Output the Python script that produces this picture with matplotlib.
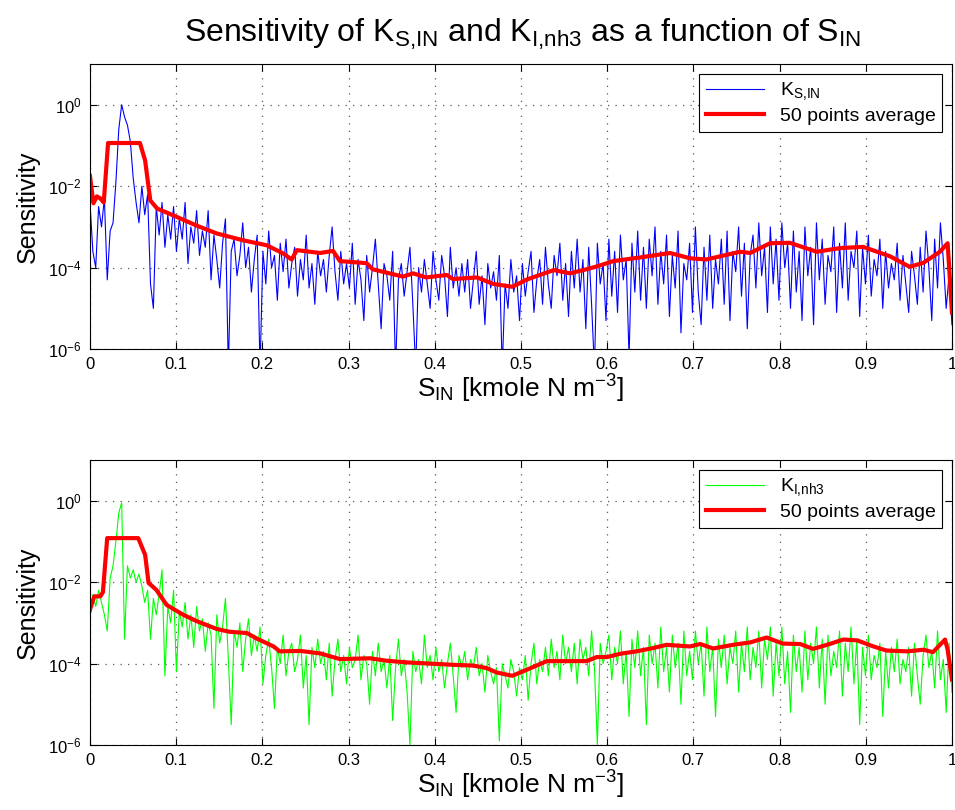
import numpy as np
import matplotlib
matplotlib.use('Agg')
import matplotlib.pyplot as plt

plt.rcParams['font.family'] = ['Liberation Sans', 'DejaVu Sans']
plt.rcParams['mathtext.fontset'] = 'custom'
plt.rcParams['mathtext.rm'] = 'Liberation Sans'
plt.rcParams['mathtext.it'] = 'Liberation Sans'
plt.rcParams['mathtext.bf'] = 'Liberation Sans:bold'

# log10 of the sensitivity (evenly spaced over S_IN = 0..1)
ks_log = [
    -2.4, -3.6, -4.0, -2.5, -3.0, -2.3, -4.3, -3.1, -2.9, -1.9,
    -0.6, 0.0, -0.3, -0.5, -0.9, -1.8, -2.4, -2.9, -2.0, -2.7,
    -2.2, -4.4, -5.0, -2.5, -3.2, -2.4, -3.5, -2.7, -3.3, -2.5,
    -3.6, -2.8, -3.3, -2.4, -3.9, -3.0, -3.4, -2.6, -3.7, -3.1,
    -3.5, -2.6, -4.3, -3.2, -3.8, -4.5, -3.4, -2.8, -6.5, -3.6,
    -3.3, -4.2, -3.7, -2.9, -4.0, -3.5, -4.6, -3.8, -3.2, -6.5,
    -3.6, -4.4, -3.1, -4.0, -3.7, -4.8, -3.4, -4.1, -3.3, -4.5,
    -3.9, -3.5, -4.7, -3.8, -4.3, -3.2, -4.5, -3.9, -4.9, -3.6,
    -4.2, -3.8, -4.6, -3.7, -3.0, -4.1, -4.8, -3.6, -4.4, -3.9,
    -4.5, -3.4, -4.9, -3.8, -4.3, -5.3, -3.7, -4.6, -4.0, -3.3,
    -4.4, -5.5, -3.9, -4.2, -4.8, -3.6, -6.5, -4.3, -3.9, -4.7,
    -4.1, -3.5, -4.9, -6.5, -4.0, -4.6, -3.8, -4.4, -5.0, -3.6,
    -4.3, -4.8, -3.7, -4.2, -5.2, -3.5, -4.5, -4.0, -4.7, -3.9,
    -4.6, -3.8, -5.0, -4.3, -3.6, -4.9, -4.2, -5.4, -3.9, -4.5,
    -4.1, -4.8, -3.7, -6.5, -4.4, -5.0, -3.8, -4.6, -4.2, -5.3,
    -3.9, -4.7, -4.1, -3.6, -5.1, -4.3, -3.8, -4.9, -3.5, -4.4,
    -5.0, -3.7, -4.2, -3.4, -4.8, -3.9, -5.2, -3.6, -4.5, -3.3,
    -4.6, -3.8, -5.5, -3.5, -4.9, -6.5, -3.4, -4.4, -3.9, -5.3,
    -3.3, -4.7, -3.6, -5.1, -3.2, -4.3, -3.8, -6.2, -3.4, -4.6,
    -3.1, -4.8, -3.5, -5.0, -3.3, -4.2, -3.0, -4.9, -3.6, -4.4,
    -3.2, -5.2, -3.7, -4.5, -3.1, -5.6, -3.9, -4.3, -3.4, -5.1,
    -3.0, -4.6, -5.4, -3.5, -4.8, -3.2, -5.0, -3.8, -4.4, -3.3,
    -4.9, -3.1, -5.3, -3.6, -4.1, -3.0, -4.7, -3.4, -5.5, -3.7,
    -3.2, -4.5, -2.9, -4.2, -3.5, -5.1, -3.0, -4.4, -3.3, -4.8,
    -2.9, -4.0, -3.4, -5.0, -3.1, -4.6, -3.6, -5.3, -3.0, -4.2,
    -3.5, -5.4, -2.9, -4.3, -3.3, -4.9, -3.7, -4.1, -3.0, -5.1,
    -3.4, -4.5, -2.9, -4.8, -3.6, -4.0, -3.1, -5.2, -3.5, -4.4,
    -3.2, -4.7, -3.8, -4.2, -3.3, -5.0, -3.6, -4.5, -3.9, -4.3,
    -3.4, -4.8, -3.7, -4.4, -5.1, -3.6, -4.2, -4.9, -3.5, -4.6,
    -3.1, -4.0, -5.3, -3.3, -4.5, -2.9, -3.8, -5.0, -4.2, -5.4,
]

ki_log = [
    -2.9, -2.3, -2.6, -2.2, -2.5, -2.8, -3.2, -1.9, -1.6, -1.0,
    -0.3, -0.05, -3.4, -1.6, -1.9, -1.7, -2.0, -1.8, -2.1, -2.5,
    -2.2, -3.4, -2.4, -2.8, -2.3, -1.7, -4.3, -2.6, -3.0, -2.2,
    -4.2, -2.7, -3.1, -2.5, -3.4, -2.8, -3.6, -2.6, -3.2, -2.9,
    -3.7, -3.0, -3.3, -5.1, -2.8, -3.5, -3.1, -2.4, -3.9, -5.5,
    -3.2, -3.6, -3.0, -4.2, -3.4, -2.9, -3.8, -3.3, -3.7, -3.1,
    -4.5, -3.8, -3.4, -4.1, -5.1, -3.6, -4.0, -3.3, -4.3, -3.7,
    -3.5, -4.2, -3.9, -3.3, -4.6, -3.8, -5.5, -3.6, -4.1, -3.4,
    -4.0, -3.7, -4.4, -3.5, -4.8, -3.9, -3.4, -4.2, -3.8, -4.5,
    -3.6, -4.1, -3.9, -3.3, -4.4, -3.8, -4.0, -5.0, -3.7, -4.3,
    -3.5, -4.2, -3.9, -4.6, -3.8, -5.4, -4.1, -3.4, -4.3, -3.9,
    -4.7, -6.0, -3.7, -4.2, -3.9, -4.5, -3.3, -4.1, -3.8, -4.4,
    -3.6, -4.2, -3.9, -4.6, -4.0, -3.5, -4.3, -5.2, -3.8, -4.1,
    -3.7, -4.4, -3.9, -4.1, -3.6, -4.3, -4.0, -4.7, -3.8, -4.2,
    -4.5, -4.1, -5.9, -4.0, -4.3, -4.6, -3.9, -4.2, -4.8, -4.1,
    -4.4, -3.8, -4.9, -4.0, -3.5, -4.5, -3.9, -4.2, -3.6, -4.3,
    -3.4, -4.1, -3.7, -4.4, -3.3, -4.0, -3.6, -4.2, -3.5, -4.5,
    -3.4, -3.9, -3.6, -4.3, -3.2, -4.1, -6.0, -3.5, -4.0, -3.7,
    -3.3, -4.4, -3.6, -4.0, -3.2, -4.5, -3.7, -5.3, -3.4, -4.1,
    -3.2, -4.3, -3.6, -5.5, -3.3, -4.0, -3.5, -4.6, -3.1, -4.2,
    -3.6, -4.7, -3.3, -4.1, -3.5, -5.0, -3.2, -4.3, -3.7, -4.4,
    -3.2, -4.0, -3.5, -4.8, -3.1, -4.2, -3.6, -5.3, -3.4, -4.1,
    -3.3, -4.5, -3.6, -4.0, -3.2, -4.7, -3.5, -4.2, -3.1, -4.4,
    -3.6, -4.1, -3.2, -4.6, -3.4, -3.9, -3.1, -4.8, -3.5, -4.3,
    -3.1, -4.5, -3.7, -5.2, -3.3, -4.2, -3.6, -4.7, -3.2, -4.4,
    -3.5, -4.0, -3.1, -4.6, -3.4, -5.0, -3.3, -4.3, -3.7, -4.1,
    -3.2, -4.8, -3.5, -4.2, -3.1, -4.5, -3.4, -5.5, -3.6, -4.3,
    -3.3, -4.4, -3.8, -4.1, -3.5, -5.3, -3.7, -4.6, -3.6, -4.2,
    -3.4, -4.5, -3.9, -4.2, -3.6, -4.8, -3.5, -4.3, -5.0, -3.8,
    -3.3, -4.1, -3.7, -4.6, -3.2, -4.4, -3.9, -5.2, -3.5, -4.7,
]

# 50 points moving average (log10)
avg_ks_x = [0, 0.004, 0.008, 0.012, 0.016, 0.021, 0.058, 0.064, 0.070, 0.078,
            0.097, 0.124, 0.147, 0.178, 0.205, 0.224, 0.234, 0.24, 0.267, 0.282,
            0.29, 0.321, 0.328, 0.363, 0.375, 0.39, 0.414, 0.421, 0.449, 0.468,
            0.49, 0.507, 0.538, 0.557, 0.576, 0.588, 0.607, 0.638, 0.673, 0.696,
            0.715, 0.754, 0.766, 0.789, 0.812, 0.843, 0.87, 0.897, 0.928, 0.951,
            0.967, 0.986, 0.995, 1.0]
avg_ks_log = [-1.75, -2.42, -2.25, -2.3, -2.4, -0.94, -0.94, -1.37, -2.35, -2.55,
              -2.72, -2.97, -3.16, -3.33, -3.45, -3.65, -3.8, -3.57, -3.64, -3.59,
              -3.84, -3.89, -4.04, -4.22, -4.14, -4.24, -4.18, -4.28, -4.24, -4.4,
              -4.47, -4.29, -4.06, -4.14, -4.04, -3.97, -3.84, -3.75, -3.64, -3.77,
              -3.8, -3.61, -3.64, -3.4, -3.39, -3.61, -3.52, -3.49, -3.72, -3.98,
              -3.88, -3.61, -3.4, -5.1]

avg_ki_x = [0, 0.005, 0.012, 0.015, 0.02, 0.056, 0.064, 0.068, 0.077, 0.089,
            0.1, 0.108, 0.124, 0.147, 0.162, 0.182, 0.193, 0.213, 0.22, 0.244,
            0.267, 0.29, 0.325, 0.344, 0.367, 0.394, 0.421, 0.445, 0.46, 0.472,
            0.49, 0.507, 0.53, 0.576, 0.588, 0.6, 0.615, 0.634, 0.653, 0.669,
            0.696, 0.708, 0.723, 0.746, 0.766, 0.785, 0.804, 0.824, 0.839, 0.855,
            0.874, 0.89, 0.909, 0.924, 0.948, 0.967, 0.978, 0.992, 0.995, 1.0]
avg_ki_log = [-2.68, -2.35, -2.35, -2.25, -0.92, -0.92, -1.33, -2.02, -2.19, -2.56,
              -2.7, -2.8, -2.96, -3.15, -3.22, -3.25, -3.38, -3.58, -3.7, -3.69,
              -3.75, -3.89, -3.87, -3.93, -3.97, -4.0, -4.03, -4.05, -4.11, -4.22,
              -4.3, -4.15, -3.94, -3.94, -3.84, -3.84, -3.76, -3.7, -3.62, -3.54,
              -3.58, -3.52, -3.63, -3.54, -3.48, -3.36, -3.51, -3.52, -3.64, -3.54,
              -3.41, -3.43, -3.58, -3.68, -3.7, -3.66, -3.72, -3.41, -3.66, -4.39]

x_ticks = [0, 0.1, 0.2, 0.3, 0.4, 0.5, 0.6, 0.7, 0.8, 0.9, 1]
x_ticklabels = ['0', '0.1', '0.2', '0.3', '0.4', '0.5', '0.6', '0.7', '0.8', '0.9', '1']
y_ticks = [1e-6, 1e-4, 1e-2, 1e0]
y_ticklabels = ['$10^{-6}$', '$10^{-4}$', '$10^{-2}$', '$10^{0}$']

panels = [
    (ks_log, avg_ks_x, avg_ks_log, (0, 0, 1), r'K$_{\mathregular{S{,}IN}}$'),
    (ki_log, avg_ki_x, avg_ki_log, (0, 1, 0), r'K$_{\mathregular{I{,}nh3}}$'),
]

fig = plt.figure(figsize=(9.55, 8.1), dpi=100)
ax_pos = [[0.0942, 0.569, 0.9026, 0.352], [0.0942, 0.0802, 0.9026, 0.352]]

for pos, (vals, ax_x, ax_log, col, lab) in zip(ax_pos, panels):
    ax = fig.add_axes(pos)
    s = np.linspace(0, 1, len(vals))
    ax.semilogy(s, 10.0 ** np.array(vals), color=col, lw=0.8, label=lab)
    ax.semilogy(ax_x, 10.0 ** np.array(ax_log), color=(1, 0, 0), lw=3,
                label='50 points average')
    ax.set_xlim(0, 1)
    ax.set_ylim(1e-6, 1e1)
    ax.set_xticks(x_ticks)
    ax.set_xticklabels(x_ticklabels)
    ax.set_yticks(y_ticks)
    ax.set_yticklabels(y_ticklabels)
    ax.minorticks_off()
    ax.tick_params(direction='in', top=True, right=True, labelsize=12, length=5, pad=6)
    ax.grid(True, ls=(0, (1, 5)), color='0.35', lw=0.9)
    ax.set_ylabel('Sensitivity', fontsize=18, labelpad=6)
    ax.set_xlabel(r'S$_{\mathregular{IN}}$ [kmole N m$^{\mathregular{-3}}$]', fontsize=19, labelpad=0)
    leg = ax.legend(loc='upper right', fontsize=14, fancybox=False, framealpha=1,
                    edgecolor='black', borderaxespad=0.5, handlelength=3.0,
                    labelspacing=0.25, borderpad=0.35)
    leg.get_frame().set_linewidth(0.8)

fig.suptitle(r'Sensitivity of K$_{\mathregular{S{,}IN}}$ and K$_{\mathregular{I{,}nh3}}$ as a function of S$_{\mathregular{IN}}$',
             fontsize=23, x=0.547, y=0.98)

plt.savefig('out.png', dpi=100)
